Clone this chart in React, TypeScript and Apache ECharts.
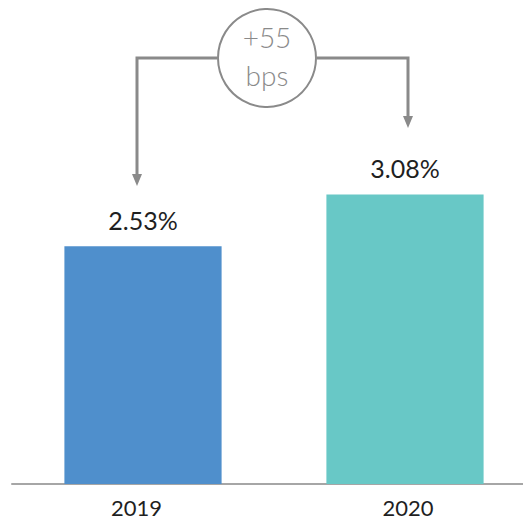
import React, { useEffect, useRef } from "react";
import * as echarts from "echarts";

const categories = ["2019", "2020"];
const values = [2.53, 3.08];
const barColors = ["#4F8FCC", "#68C8C6"];
const deltaLabel = ["+55", "bps"];

const FONT = "Lato, 'Noto Sans', sans-serif";
const GRAY = "#8a8a8a";

export default function App() {
  const ref = useRef<HTMLDivElement>(null);
  useEffect(() => {
    document.body.style.margin = "0";
    const chart = echarts.init(ref.current!, undefined, { renderer: "svg" });
    const labelStyle = { fontSize: 22, color: "#1f1f1f", fontFamily: FONT, fontWeight: 400 };
    chart.setOption({
      animation: false,
      grid: { left: 12, top: 108, width: 524, height: 376, outerBoundsMode: "none", containLabel: false },
      xAxis: {
        type: "category",
        data: categories,
        axisLine: { lineStyle: { color: "#a6a6a6", width: 2 } },
        axisTick: { show: false },
        axisLabel: {
          margin: 12,
          ...labelStyle,
          formatter: (v: string, i: number) => (i === 0 ? `{a|${v}}` : `{b|${v}}`),
          rich: {
            a: { ...labelStyle, padding: [0, 13, 0, 0] },
            b: { ...labelStyle, padding: [0, 0, 0, 6] },
          },
        },
      },
      yAxis: { type: "value", min: 0, max: 4, show: false, splitLine: { show: false } },
      series: [
        {
          type: "bar",
          barWidth: "60%",
          data: values.map((v, i) => ({ value: v, itemStyle: { color: barColors[i] } })),
          label: {
            show: true,
            position: "top",
            distance: 14,
            fontSize: 25,
            fontWeight: 400,
            color: "#1f1f1f",
            fontFamily: FONT,
            formatter: (p: any) => p.value.toFixed(2) + "%",
          },
        },
      ],
      graphic: [
        {
          type: "polyline",
          shape: { points: [[217, 58], [137, 58], [137, 176]] },
          style: { stroke: GRAY, lineWidth: 3, fill: "none" },
        },
        {
          type: "polygon",
          shape: { points: [[132, 174], [142, 174], [137, 186]] },
          style: { fill: GRAY },
        },
        {
          type: "polyline",
          shape: { points: [[317, 58], [408, 58], [408, 118]] },
          style: { stroke: GRAY, lineWidth: 3, fill: "none" },
        },
        {
          type: "polygon",
          shape: { points: [[403, 116], [413, 116], [408, 128]] },
          style: { fill: GRAY },
        },
        {
          type: "circle",
          shape: { cx: 267, cy: 58, r: 49 },
          style: { stroke: GRAY, lineWidth: 2, fill: "#fff" },
        },
        {
          type: "text",
          x: 267,
          y: 37,
          style: {
            text: deltaLabel[0],
            fontSize: 28,
            fontWeight: 300,
            fontFamily: FONT,
            fill: GRAY,
            align: "center",
            verticalAlign: "middle",
          },
        },
        {
          type: "text",
          x: 267,
          y: 75,
          style: {
            text: deltaLabel[1],
            fontSize: 28,
            fontWeight: 300,
            fontFamily: FONT,
            fill: GRAY,
            align: "center",
            verticalAlign: "middle",
          },
        },
      ],
    });
    return () => chart.dispose();
  }, []);
  return <div ref={ref} style={{ width: 523, height: 519 }} />;
}
